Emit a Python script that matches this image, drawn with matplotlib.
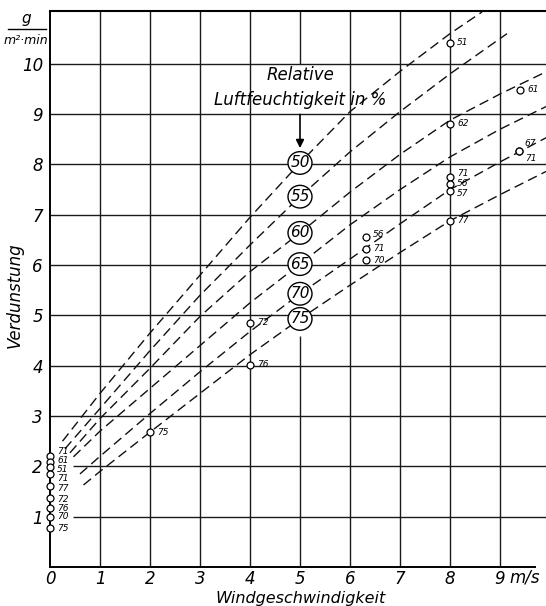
import matplotlib
matplotlib.use('Agg')
import matplotlib.pyplot as plt
from matplotlib.patches import Ellipse
from matplotlib.lines import Line2D

plt.rcParams['font.family'] = ['Liberation Sans Narrow', 'DejaVu Sans']
plt.rcParams['font.style'] = 'italic'

# Kurven gleicher relativer Luftfeuchtigkeit
rh_levels = [50, 55, 60, 65, 70, 75]
x_50 = [0.25, 1, 2, 3, 4, 5, 6, 7, 8, 8.64]
y_50 = [2.50, 3.45, 4.65, 5.80, 6.95, 8.03, 9.05, 9.85, 10.60, 11.03]
x_55 = [0.30, 1, 2, 3, 4, 5, 6, 7, 8, 9.14]
y_55 = [2.35, 3.15, 4.30, 5.40, 6.40, 7.36, 8.25, 9.05, 9.80, 10.60]
x_60 = [0.40, 1, 2, 3, 4, 5, 6, 7, 8, 9, 9.92]
y_60 = [2.27, 2.95, 3.95, 4.98, 5.87, 6.64, 7.45, 8.20, 8.88, 9.40, 9.84]
x_65 = [0.47, 1, 2, 3, 4, 5, 6, 7, 8, 9, 9.92]
y_65 = [2.19, 2.70, 3.55, 4.40, 5.25, 6.02, 6.80, 7.50, 8.15, 8.70, 9.15]
x_70 = [0.60, 1, 2, 3, 4, 5, 6, 7, 8, 9, 9.92]
y_70 = [1.85, 2.20, 3.05, 3.88, 4.68, 5.43, 6.12, 6.82, 7.50, 8.05, 8.53]
x_75 = [0.67, 1, 2, 3, 4, 5, 6, 7, 8, 9, 9.92]
y_75 = [1.63, 1.90, 2.68, 3.45, 4.22, 4.93, 5.60, 6.25, 6.88, 7.40, 7.86]
curves_x = [x_50, x_55, x_60, x_65, x_70, x_75]
curves_y = [y_50, y_55, y_60, y_65, y_70, y_75]

# Messpunkte mit zugehoeriger rel. Feuchte
pts_x = [0, 0, 0, 0, 0, 0, 0, 0, 0,
         2, 4, 4, 6.32, 6.32, 6.32,
         8, 8, 8, 8, 8, 8, 9.40, 9.37, 9.37]
pts_y = [2.21, 2.09, 1.98, 1.85, 1.60, 1.37, 1.17, 1.00, 0.77,
         2.68, 4.85, 4.02, 6.56, 6.32, 6.10,
         10.42, 8.81, 7.76, 7.62, 7.48, 6.88, 9.48, 8.26, 8.26]
pts_lab = ['71', '61', '51', '71', '77', '72', '76', '70', '75',
           '75', '72', '76', '56', '71', '70',
           '51', '62', '71', '56', '57', '77', '61', '67', '71']
# Versatz der Beschriftungen (Punkte)
lab_off = [(5, 3.4), (5, 1.3), (5, -1.3), (5, -3.4), (5, -1.6), (5, -1.0), (5, 0), (5, 0), (5, -0.5),
           (5, 0), (5, 0), (5, 0), (5, 2), (5, 0), (5, 0),
           (5, 0), (5, 0), (5, 2.4), (5, 0), (5, -2.4), (5, 0), (5, 0), (4, 6), (5, -5)]

xticks = [0, 1, 2, 3, 4, 5, 6, 7, 8, 9]
yticks = [1, 2, 3, 4, 5, 6, 7, 8, 9, 10]

fig = plt.figure(figsize=(5.46, 6.06), dpi=100)
ax = fig.add_axes([50/546, 39/606, 496/546, 556/606])
ax.set_xlim(0, 9.92)
ax.set_ylim(0, 11.05)

# Gitter
for y in yticks:
    x0 = 0.45 if y <= 2 else 0
    ax.hlines(y, x0, 9.92, color='#1a1a1a', lw=1.0, zorder=1)
for x in xticks[1:]:
    if x == 5:
        ax.vlines(x, 0, 4.6, color='#1a1a1a', lw=1.0, zorder=1)
        ax.vlines(x, 10.0, 11.05, color='#1a1a1a', lw=1.0, zorder=1)
    else:
        ax.vlines(x, 0, 11.05, color='#1a1a1a', lw=1.0, zorder=1)

ax.spines['right'].set_visible(False)
ax.spines['left'].set_linewidth(1.4)
ax.spines['top'].set_linewidth(1.5)
ax.spines['bottom'].set_linewidth(1.4)
ax.spines['bottom'].set_bounds(0, 9.7)

ax.set_xticks(xticks)
ax.set_xticklabels([str(t) for t in xticks])
ax.set_yticks(yticks)
ax.set_yticklabels([str(t) for t in yticks])
ax.tick_params(axis='y', length=0, labelsize=12, pad=5)
ax.tick_params(axis='x', length=0, labelsize=12, pad=2.5)

# Kurven
for cx, cy in zip(curves_x, curves_y):
    ax.plot(cx, cy, color='#111111', lw=1.0, dashes=(7, 3.8), zorder=2)

# Beschriftung der Kurven bei v = 5 m/s
for rh, cx, cy in zip(rh_levels, curves_x, curves_y):
    yv = cy[cx.index(5)]
    ax.add_patch(Ellipse((5, yv), 0.48, 0.45, fc='white', ec='black', lw=1.0, zorder=5))
    ax.text(5, yv, str(rh), ha='center', va='center', fontsize=11, zorder=6)

ax.text(5, 9.78, 'Relative', ha='center', va='center', fontsize=12, zorder=6)
ax.text(5, 9.28, 'Luftfeuchtigkeit in %', ha='center', va='center', fontsize=12, zorder=6)
ax.annotate('', xy=(5, 8.27), xytext=(5, 9.05),
            arrowprops=dict(arrowstyle='-|>', color='black', lw=1.2, mutation_scale=12),
            zorder=6)

# Messpunkte
ax.plot(pts_x, pts_y, 'o', ms=5, mfc='white', mec='black', mew=0.9, zorder=7, clip_on=False)
for px, py, lab, off in zip(pts_x, pts_y, pts_lab, lab_off):
    ax.annotate(lab, (px, py), xytext=off, textcoords='offset points',
                ha='left', va='center', fontsize=6.5, zorder=8)

# Achsbeschriftungen
fig.text(525/546, 1 - 578/606, 'm/s', ha='center', va='center', fontsize=12)
fig.text(301/546, 1 - 599/606, 'Windgeschwindigkeit', ha='center', va='center', fontsize=11.5)
fig.text(15/546, 1 - 295/606, 'Verdunstung', ha='center', va='center', fontsize=12, rotation=90)
fig.text(26/546, 1 - 19/606, 'g', ha='center', va='center', fontsize=11)
fig.add_artist(Line2D([8/546, 46/546], [1 - 29/606, 1 - 29/606], color='black', lw=1.0,
                      transform=fig.transFigure))
fig.text(26/546, 1 - 40/606, 'm²·min', ha='center', va='center', fontsize=9)

fig.savefig('out.png', dpi=100)
